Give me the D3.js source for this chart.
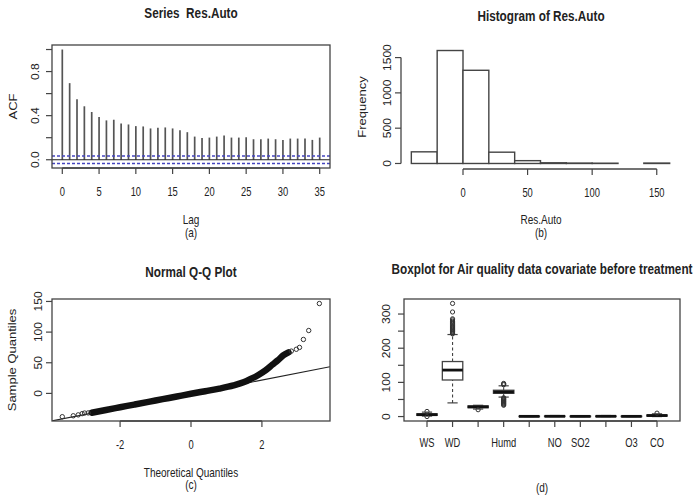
<!DOCTYPE html>
<html>
<head>
<meta charset="utf-8">
<script src="https://cdn.jsdelivr.net/npm/d3@7"></script>
<style>
  body { margin: 0; background: #fff; }
  svg { display: block; font-family: "Liberation Sans", Arial, sans-serif; }
</style>
</head>
<body>
<script>
// (a) autocorrelation of Res.Auto, lags 0..35
const acfValues = [1.0, 0.695, 0.549, 0.485, 0.433, 0.387, 0.357, 0.363, 0.329, 0.320,
  0.305, 0.302, 0.284, 0.290, 0.293, 0.284, 0.268, 0.250, 0.210, 0.198,
  0.201, 0.210, 0.220, 0.201, 0.201, 0.204, 0.186, 0.186, 0.192, 0.186,
  0.180, 0.192, 0.192, 0.192, 0.180, 0.201];
const acfCI = 0.034;
const acfXTicks = [0, 5, 10, 15, 20, 25, 30, 35];
const acfYTicks = [0, 0.2, 0.4, 0.6, 0.8, 1.0];
const acfYLabels = ['0.0', '', '0.4', '', '0.8', ''];

// (b) histogram of Res.Auto
const histBreaks = [-40, -20, 0, 20, 40, 60, 80, 100, 120, 140, 160];
const histCounts = [165, 1600, 1320, 160, 40, 10, 6, 4, 0, 6];
const histXTicks = [0, 50, 100, 150];
const histYTicks = [0, 500, 1000, 1500];

// (c) normal Q-Q plot: dense body and sparse tail points
const qqBodyTheo = [-2.8, -2.4, -2.0, -1.6, -1.2, -0.8, -0.4, 0.0, 0.4, 0.8, 1.2, 1.5, 1.7, 1.9, 2.1, 2.3, 2.45, 2.6, 2.75];
const qqBodySample = [-31.5, -27, -22.6, -18.2, -13.8, -9.4, -5, -0.6, 3.6, 7.8, 13, 18.5, 24, 30, 37.5, 47, 54, 62, 67];
const qqTailTheo = [-3.63, -3.32, -3.18, -3.07, -3.0, -2.9, 2.83, 2.97, 3.06, 3.17, 3.32, 3.62];
const qqTailSample = [-38, -36.5, -35, -33, -32, -31.8, 69, 72, 75, 88, 102.6, 146.6];
const qqIntercept = -0.7, qqSlope = 11.26;
const qqXTicks = [-2, 0, 2];
const qqYTicks = [0, 50, 100, 150];

// (d) boxplot of covariates
const boxLabels = ['WS', 'WD', '', 'Humd', '', 'NO', 'SO2', '', 'O3', 'CO'];
const boxLo  = [1.5, 40, 22, 57, 0, 0, 0, 0, 0, 0];
const boxQ1  = [3.5, 107, 26, 68, 0.2, 0.3, 0.2, 0.3, 0.2, 1.5];
const boxMed = [5.5, 136, 28.5, 72, 0.6, 0.8, 0.6, 0.8, 0.6, 3];
const boxQ3  = [8, 161, 31, 77, 1.2, 1.5, 1.2, 1.5, 1.2, 4.5];
const boxHi  = [13, 240, 33, 90, 2.5, 3, 2.5, 3, 2.5, 8];
const boxOut = [
  [15, 0],
  [242, 244, 247, 249, 252, 255, 258, 261, 263, 266, 270, 273, 276, 279, 283, 286, 306, 331],
  [20],
  [93, 95, 97, 55, 53, 51, 49, 47, 45, 43, 41, 39, 37, 35, 33],
  [], [], [], [], [],
  [10]
];
const boxYTicks = [0, 50, 100, 150, 200, 250, 300];
const boxYLabels = ['0', '', '100', '', '200', '', '300'];

const ink = '#222', line = '#444';

const svg = d3.select('body').append('svg')
  .attr('width', 695)
  .attr('height', 495);

function txt(x, y, s, o = {}) {
  svg.append('text')
    .attr('transform', `translate(${x},${y}) scale(${o.sx || 0.8},1)` + (o.rot ? ' rotate(-90)' : ''))
    .attr('text-anchor', o.anchor || 'middle')
    .attr('font-size', o.size || 12)
    .attr('font-weight', o.bold ? 'bold' : 'normal')
    .attr('fill', ink)
    .style('white-space', 'pre')
    .text(s);
}

function frame(p) {
  svg.append('rect')
    .attr('x', p.l).attr('y', p.t)
    .attr('width', p.r - p.l).attr('height', p.b - p.t)
    .attr('fill', 'none').attr('stroke', line).attr('stroke-width', 1.3);
}

function yAxis(p, y, ticks, labels, lx, drawLine) {
  if (drawLine) {
    svg.append('line').attr('x1', p.l).attr('x2', p.l)
      .attr('y1', y(ticks[0])).attr('y2', y(ticks[ticks.length - 1]))
      .attr('stroke', line).attr('stroke-width', 1.3);
  }
  ticks.forEach((v, i) => {
    svg.append('line').attr('x1', p.l - 6).attr('x2', p.l)
      .attr('y1', y(v)).attr('y2', y(v))
      .attr('stroke', line).attr('stroke-width', 1.2);
    if (labels[i]) txt(lx, y(v), labels[i], { rot: true, sx: 0.85, size: 12 });
  });
}

function xAxis(p, x, ticks, labels, axisY, ly) {
  svg.append('line').attr('x1', x(ticks[0])).attr('x2', x(ticks[ticks.length - 1]))
    .attr('y1', axisY).attr('y2', axisY)
    .attr('stroke', line).attr('stroke-width', 1.3);
  ticks.forEach((v, i) => {
    svg.append('line').attr('x1', x(v)).attr('x2', x(v))
      .attr('y1', axisY).attr('y2', axisY + 6)
      .attr('stroke', line).attr('stroke-width', 1.2);
    if (labels[i]) txt(x(v), ly, labels[i], { size: 12, sx: 0.78 });
  });
}

// ---------- (a) ACF ----------
{
  const p = { l: 52, r: 330, t: 45, b: 168 };
  const x = d3.scaleLinear().domain([-1.4, 36.4]).range([p.l, p.r]);
  const y = d3.scaleLinear().domain([-0.075, 1.041]).range([p.b, p.t]);

  svg.append('g').selectAll('line').data(acfValues).join('line')
    .attr('x1', (d, i) => x(i)).attr('x2', (d, i) => x(i))
    .attr('y1', y(0)).attr('y2', d => y(d))
    .attr('stroke', '#555').attr('stroke-width', 1.7);

  svg.append('line').attr('x1', p.l).attr('x2', p.r).attr('y1', y(0)).attr('y2', y(0))
    .attr('stroke', ink).attr('stroke-width', 1.2);
  [acfCI, -acfCI].forEach(c => {
    svg.append('line').attr('x1', p.l).attr('x2', p.r).attr('y1', y(c)).attr('y2', y(c))
      .attr('stroke', '#4545c0').attr('stroke-width', 1.5).attr('stroke-dasharray', '3,2');
  });

  frame(p);
  yAxis(p, y, acfYTicks, acfYLabels, 39, false);
  xAxis(p, x, acfXTicks, acfXTicks.map(String), p.b, 196);
  txt((p.l + p.r) / 2, 18, 'Series  Res.Auto', { size: 14, bold: true, sx: 0.84 });
  txt((p.l + p.r) / 2, 224, 'Lag', { size: 12.5 });
  txt((p.l + p.r) / 2, 237, '(a)', { size: 12.5 });
  txt(17, (p.t + p.b) / 2, 'ACF', { size: 13, rot: true });
}

// ---------- (b) Histogram ----------
{
  const p = { l: 401, r: 680, t: 46, b: 168 };
  const x = d3.scaleLinear().domain([-48, 168]).range([p.l, p.r]);
  const y = d3.scaleLinear().domain([-64, 1664]).range([p.b, p.t]);

  svg.append('g').selectAll('rect').data(histCounts).join('rect')
    .attr('x', (d, i) => x(histBreaks[i]))
    .attr('width', (d, i) => x(histBreaks[i + 1]) - x(histBreaks[i]))
    .attr('y', d => y(d))
    .attr('height', d => y(0) - y(d))
    .attr('fill', '#fff').attr('stroke', line).attr('stroke-width', 1.4);

  yAxis(p, y, histYTicks, histYTicks.map(String), 391, true);
  xAxis(p, x, histXTicks, histXTicks.map(String), p.b + 1, 197);
  txt(541, 21, 'Histogram of Res.Auto', { size: 14, bold: true, sx: 0.84 });
  txt(541, 224, 'Res.Auto', { size: 12.5 });
  txt(541, 237, '(b)', { size: 12.5 });
  txt(366, (p.t + p.b) / 2, 'Frequency', { size: 13, rot: true });
}

// ---------- (c) Normal Q-Q ----------
{
  const p = { l: 52, r: 330, t: 299, b: 421 };
  const x = d3.scaleLinear().domain([-3.92, 3.92]).range([p.l, p.r]);
  const y = d3.scaleLinear().domain([-45, 154]).range([p.b, p.t]);

  svg.append('clipPath').attr('id', 'qqclip').append('rect')
    .attr('x', p.l).attr('y', p.t).attr('width', p.r - p.l).attr('height', p.b - p.t);

  const [x0, x1] = x.domain();
  svg.append('line').attr('clip-path', 'url(#qqclip)')
    .attr('x1', x(x0)).attr('y1', y(qqIntercept + qqSlope * x0))
    .attr('x2', x(x1)).attr('y2', y(qqIntercept + qqSlope * x1))
    .attr('stroke', ink).attr('stroke-width', 1.1);

  const body = qqBodyTheo.map((t, i) => [t, qqBodySample[i]]);
  svg.append('path')
    .attr('d', d3.line().curve(d3.curveMonotoneX).x(d => x(d[0])).y(d => y(d[1]))(body))
    .attr('fill', 'none').attr('stroke', '#111').attr('stroke-width', 6.5)
    .attr('stroke-linecap', 'round').attr('stroke-linejoin', 'round');

  svg.append('g').selectAll('circle').data(qqTailTheo).join('circle')
    .attr('cx', d => x(d)).attr('cy', (d, i) => y(qqTailSample[i]))
    .attr('r', 2.2).attr('fill', 'none').attr('stroke', '#333').attr('stroke-width', 1);

  frame(p);
  yAxis(p, y, qqYTicks, qqYTicks.map(String), 42, false);
  xAxis(p, x, qqXTicks, qqXTicks.map(String), p.b, 449);
  txt(191, 277, 'Normal Q-Q Plot', { size: 14, bold: true, sx: 0.84 });
  txt(191, 477, 'Theoretical Quantiles', { size: 12.5 });
  txt(191, 489, '(c)', { size: 12.5 });
  txt(16, (p.t + p.b) / 2, 'Sample Quantiles', { size: 13, rot: true });
}

// ---------- (d) Boxplot ----------
{
  const p = { l: 404, r: 680, t: 299, b: 421 };
  const x = d3.scaleLinear().domain([0.1, 10.9]).range([p.l, p.r]);
  const y = d3.scaleLinear().domain([-13, 344]).range([p.b, p.t]);
  const half = (x(1.4) - x(1)), staple = half / 2;
  const g = svg.append('g');

  boxLabels.forEach((lab, i) => {
    const cx = x(i + 1);
    // whiskers
    [[boxLo[i], boxQ1[i]], [boxQ3[i], boxHi[i]]].forEach(([a, b]) => {
      g.append('line').attr('x1', cx).attr('x2', cx).attr('y1', y(a)).attr('y2', y(b))
        .attr('stroke', line).attr('stroke-width', 1.1).attr('stroke-dasharray', '3,2.5');
    });
    [boxLo[i], boxHi[i]].forEach(v => {
      g.append('line').attr('x1', cx - staple).attr('x2', cx + staple).attr('y1', y(v)).attr('y2', y(v))
        .attr('stroke', line).attr('stroke-width', 1.2);
    });
    g.append('rect')
      .attr('x', cx - half).attr('width', half * 2)
      .attr('y', y(boxQ3[i])).attr('height', Math.max(0.5, y(boxQ1[i]) - y(boxQ3[i])))
      .attr('fill', '#fff').attr('stroke', line).attr('stroke-width', 1.3);
    g.append('line').attr('x1', cx - half).attr('x2', cx + half)
      .attr('y1', y(boxMed[i])).attr('y2', y(boxMed[i]))
      .attr('stroke', '#111').attr('stroke-width', 2.8);
    g.selectAll(null).data(boxOut[i]).join('circle')
      .attr('cx', cx).attr('cy', d => y(d)).attr('r', 2.1)
      .attr('fill', 'none').attr('stroke', '#333').attr('stroke-width', 1);
  });

  frame(p);
  yAxis(p, y, boxYTicks, boxYLabels, 390, false);
  xAxis(p, x, d3.range(1, boxLabels.length + 1), boxLabels, p.b, 447);
  txt(542, 274, 'Boxplot for Air quality data covariate before treatment', { size: 14, bold: true, sx: 0.84 });
  txt(542, 492, '(d)', { size: 12.5 });
}
</script>
</body>
</html>
